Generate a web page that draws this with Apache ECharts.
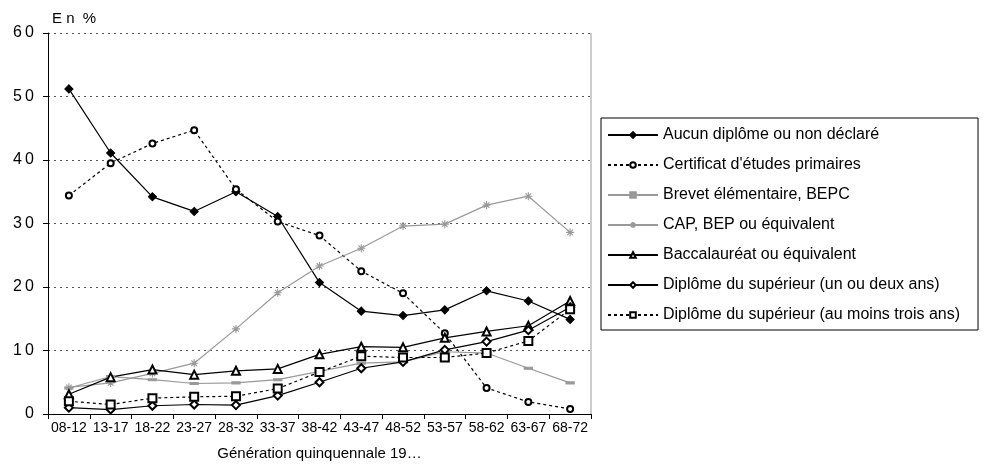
<!DOCTYPE html>
<html><head><meta charset="utf-8">
<script src="https://cdn.jsdelivr.net/npm/echarts@6/dist/echarts.min.js"></script>
<style>html,body{margin:0;padding:0;background:#fff}#c{width:985px;height:469px}</style>
</head><body><div id="c"></div>
<script>
const categories = ['08-12','13-17','18-22','23-27','28-32','33-37','38-42','43-47','48-52','53-57','58-62','63-67','68-72'];
const aucun = [51.2,41.1,34.2,31.9,35.0,31.1,20.7,16.2,15.5,16.4,19.4,17.8,14.9];
const certificat = [34.4,39.5,42.6,44.7,35.4,30.3,28.1,22.5,19.0,12.7,4.1,1.9,0.8];
const brevet = [4.1,5.9,5.4,4.8,4.9,5.4,6.7,8.0,8.2,9.8,9.6,7.2,4.9];
const cap = [4.2,4.9,6.4,8.0,13.4,19.1,23.3,26.1,29.6,29.9,32.9,34.3,28.6];
const bac = [3.1,5.8,7.0,6.2,6.8,7.1,9.4,10.6,10.5,12.0,13.0,13.9,17.8];
const sup12 = [1.0,0.7,1.3,1.5,1.4,2.9,5.0,7.2,8.2,10.1,11.4,13.2,16.8];
const sup3 = [2.0,1.5,2.5,2.7,2.8,4.0,6.6,9.1,8.9,8.9,9.6,11.5,16.5];
const names = ['Aucun diplôme ou non déclaré','Certificat d\'études primaires','Brevet élémentaire, BEPC','CAP, BEP ou équivalent','Baccalauréat ou équivalent','Diplôme du supérieur (un ou deux ans)','Diplôme du supérieur (au moins trois ans)'];
const yTicks = [0,10,20,30,40,50,60];

const font = 'Liberation Sans, Arial, sans-serif';
const narrow = '"Liberation Sans Narrow", Liberation Sans, Arial, sans-serif';
const star = 'path://M0,5 L10,5 M5,0 L5,10 M1.5,1.5 L8.5,8.5 M8.5,1.5 L1.5,8.5';
function s(name, data, color, type, symbol, size){
  return {
    name, type:'line', data, symbol, symbolSize:size, showSymbol:true,
    lineStyle:{color, width:1.2, type},
    itemStyle:{color, borderColor:color, borderWidth:1.1},
    emphasis:{disabled:true}, animation:false
  };
}
const chart = echarts.init(document.getElementById('c'));
chart.setOption({
  animation:false,
  textStyle:{fontFamily:font},
  grid:{left:48, right:394, top:33, bottom:55},
  graphic:[
    {type:'text', left:52, top:11, style:{text:'E n  %', font:'15px '+font, fill:'#000'}},
    {type:'line', shape:{x1:591,y1:33,x2:591,y2:414}, style:{stroke:'#999',lineWidth:1}}
  ],
  legend:{
    orient:'vertical', left:601, top:118,
    borderColor:'#000', borderWidth:1, padding:[9,18,7,6],
    itemWidth:50, itemHeight:7, itemGap:14,
    textStyle:{fontSize:16, color:'#000', fontFamily:font},
    data:names
  },
  xAxis:{
    type:'category', data:categories, boundaryGap:true,
    axisLine:{lineStyle:{color:'#000'}},
    axisTick:{show:true, inside:false, length:5, lineStyle:{color:'#000'}},
    axisLabel:{color:'#000', fontSize:14, margin:7, interval:0, fontFamily:narrow},
    name:'Génération quinquennale 19…', nameLocation:'middle', nameGap:32,
    nameTextStyle:{fontSize:15, color:'#000'}
  },
  yAxis:{
    type:'value', min:0, max:60, interval:10,
    axisLine:{show:true, lineStyle:{color:'#000'}},
    axisTick:{show:true, length:5, lineStyle:{color:'#000'}},
    axisLabel:{color:'#000', fontSize:16, margin:14, formatter:v=>yTicks.includes(v)?String(v).split('').join('\u2009'):''},
    splitLine:{show:true, lineStyle:{color:'#555', type:[2,4], width:1.2}}
  },
  series:[
    s(names[0], aucun, '#000', 'solid', 'diamond', 8),
    s(names[1], certificat, '#000', [3,3], 'emptyCircle', 6),
    s(names[2], brevet, '#999', 'solid', 'rect', [6,2]),
    s(names[3], cap, '#999', 'solid', star, 8),
    s(names[4], bac, '#000', 'solid', 'emptyTriangle', 8),
    s(names[5], sup12, '#000', 'solid', 'emptyDiamond', 8),
    s(names[6], sup3, '#000', [3,3], 'emptyRect', 8)
  ]
});
</script></body></html>
